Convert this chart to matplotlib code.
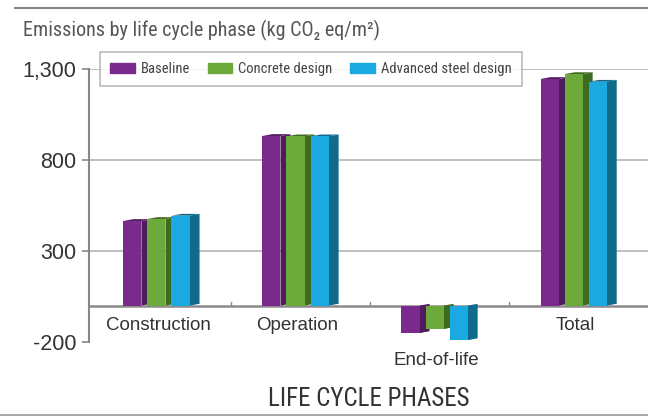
import numpy as np
import matplotlib.pyplot as plt
from matplotlib.lines import Line2D

# data
phases = ["Construction", "Operation", "End-of-life", "Total"]
series = ["Baseline", "Concrete design", "Advanced steel design"]
baseline = [465, 932, -150, 1245]
concrete = [476, 930, -128, 1272]
steel = [494, 930, -189, 1230]

front_colors = ["#7a2a8c", "#6cab3b", "#1ba9e2"]
side_colors = ["#4f1b5c", "#3f6a22", "#0f6a8c"]

plt.rcParams["font.family"] = ["Liberation Sans", "DejaVu Sans"]
narrow = ["Roboto Condensed", "DejaVu Sans"]

fig = plt.figure(figsize=(6.48, 4.19), dpi=100)
ax = fig.add_axes([89 / 648, 77 / 419, 559 / 648, 273 / 419])

pitch, width, depth, lift = 0.173, 0.13, 0.072, 10
x = np.arange(len(phases))
for i, (vals, fc, sc) in enumerate(zip([baseline, concrete, steel], front_colors, side_colors)):
    for xc, v in zip(x, vals):
        xl = xc - 0.273 + i * pitch
        xr = xl + width
        # side face
        ax.fill([xr, xr + depth, xr + depth, xr], [0, lift, v + lift, v],
                color=sc, lw=0, zorder=3 + i)
        # top face
        ax.fill([xl, xr, xr + depth, xl + depth], [v, v, v + lift, v + lift],
                color=sc, lw=0, zorder=3 + i)
        ax.bar(xl, v, width=width, align="edge", color=fc, lw=0, zorder=3 + i)

# gridlines and zero line
for g in [300, 800, 1300]:
    ax.axhline(g, color="#b5b5b5", lw=1.2, zorder=1)
ax.axhline(0, color="#8a8a8a", lw=1.8, zorder=2)
for b in [0.5, 1.5, 2.5]:
    ax.plot([b, b], [0, 18], color="#8a8a8a", lw=1, zorder=2)

ax.set_xlim(-0.52, 3.5)
ax.set_ylim(-200, 1300)
for s in ["top", "right", "bottom"]:
    ax.spines[s].set_visible(False)
ax.spines["left"].set_color("#888888")
ax.spines["left"].set_linewidth(1.5)
ax.set_xticks([])
ax.set_yticks([-200, 300, 800, 1300])
ax.set_yticklabels(["-200", "300", "800", "1,300"])
ax.tick_params(axis="y", length=5, width=1.2, color="#888888", labelsize=15.5,
               labelcolor="#333333", pad=4)

# category labels
for xc, name in zip(x, phases):
    off = -55 if name == "End-of-life" else -20
    ax.annotate(name, (xc - 0.02, 0), xytext=(0, off), textcoords="offset pixels",
                ha="center", va="center", fontsize=13.5, color="#333333")

fig.text(369 / 648, 1 - 399 / 419, "LIFE CYCLE PHASES", ha="center", va="center",
         fontsize=18, color="#333333", family=narrow)
fig.text(23 / 648, 1 - 30 / 419, "Emissions by life cycle phase (kg CO\u2082 eq/m\u00b2)",
         ha="left", va="center", fontsize=14.5, color="#555555", family=narrow)

handles = [plt.Rectangle((0, 0), 1, 1, color=c) for c in front_colors]
leg = fig.legend(handles, series, loc="upper left",
                 bbox_to_anchor=(100 / 648, 1 - 52 / 419), ncol=3, frameon=True,
                 prop={"family": narrow, "size": 10.5}, handlelength=1.7,
                 handleheight=0.6, columnspacing=1.2, handletextpad=0.4,
                 borderpad=0.7, borderaxespad=0, fancybox=False,
                 edgecolor="#aaaaaa", labelcolor="#444444")
leg.get_frame().set_linewidth(1.2)
leg.set_zorder(10)

# frame lines at top and bottom of the picture
fig.add_artist(Line2D([15 / 648, 1], [1 - 8 / 419, 1 - 8 / 419], color="#888888", lw=1.5))
fig.add_artist(Line2D([0, 1], [1 - 415 / 419, 1 - 415 / 419], color="#999999", lw=1.2))

fig.savefig("out.png", dpi=100)
